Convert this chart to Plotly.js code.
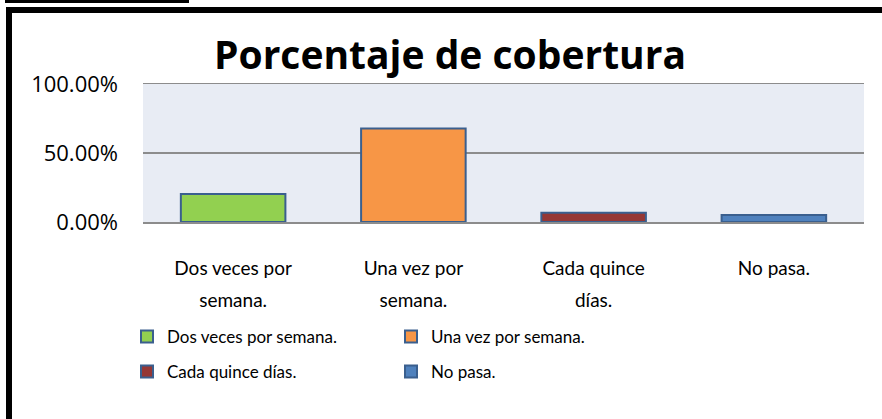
<!DOCTYPE html>
<html>
<head>
<meta charset="utf-8">
<script src="https://cdn.plot.ly/plotly-3.0.1.min.js"></script>
<style>
  html, body { margin: 0; padding: 0; background: #ffffff; }
  #wrap { position: relative; width: 882px; height: 419px; overflow: hidden; }
  #chart { position: absolute; left: 0; top: 0; width: 882px; height: 419px; }
  .blk { position: absolute; background: #000; }
</style>
</head>
<body>
<div id="wrap">
  <div id="chart"></div>
  <div class="blk" style="left:5px; top:0px; width:184px; height:3px;"></div>
  <div class="blk" style="left:6px; top:7px; width:876px; height:6px;"></div>
  <div class="blk" style="left:6px; top:7px; width:6px; height:412px;"></div>
</div>
<script>
const categories = ["Dos veces por semana.", "Una vez por semana.", "Cada quince días.", "No pasa."];
const tickLines = [["Dos veces por", "semana."], ["Una vez por", "semana."], ["Cada quince", "días."], ["No pasa."]];
const values = [0.2034, 0.678, 0.0678, 0.0508];
const colors = ["#92d050", "#f79646", "#953735", "#4f81bd"];
const legendGroups = ["legend", "legend", "legend2", "legend2"];

const tickLabels = tickLines.map(lines =>
  lines.map(l => "<span style='font-size:19px'>" + l + "</span>").join("<br>"));

const traces = categories.map((c, i) => ({
  type: "bar",
  name: c,
  x: [c],
  y: [values[i]],
  width: 0.58,
  legend: legendGroups[i],
  marker: { color: colors[i], line: { color: "#3a5f8e", width: 2 } },
  hoverinfo: "skip"
}));

const legendFont = { family: "Lato, 'Open Sans', sans-serif", size: 17, color: "#000" };

const layout = {
  width: 882,
  height: 419,
  margin: { l: 143, r: 18, t: 84, b: 197 },
  paper_bgcolor: "#ffffff",
  plot_bgcolor: "#e8ecf4",
  barmode: "overlay",
  showlegend: true,
  title: {
    text: "<b>Porcentaje de cobertura</b>",
    font: { family: "'Open Sans', sans-serif", size: 39, color: "#000" },
    x: 450 / 882, xanchor: "center", xref: "container",
    y: 1 - 55 / 419, yanchor: "middle", yref: "container"
  },
  xaxis: {
    type: "category",
    categoryorder: "array",
    categoryarray: categories,
    tickmode: "array",
    tickvals: categories,
    ticktext: tickLabels,
    tickfont: { family: "Lato, 'Open Sans', sans-serif", size: 24, color: "#000" },
    ticklabelstandoff: 23,
    showgrid: false,
    zeroline: false,
    showline: true,
    mirror: true,
    linecolor: "#8c8c8c",
    linewidth: 1.5,
    ticks: ""
  },
  yaxis: {
    range: [0, 1],
    tickvals: [0, 0.5, 1],
    tickformat: ".2%",
    tickfont: { family: "'Open Sans', sans-serif", size: 22, color: "#000" },
    ticklabelstandoff: 24,
    showgrid: true,
    gridcolor: "#8c8c8c",
    gridwidth: 1.5,
    zeroline: false,
    showline: false,
    ticks: ""
  },
  legend: {
    orientation: "h",
    xref: "container", yref: "container",
    x: 127 / 882, xanchor: "left",
    y: 1 - 337 / 419, yanchor: "middle",
    entrywidth: 219, entrywidthmode: "pixels",
    font: legendFont,
    bgcolor: "rgba(0,0,0,0)",
    traceorder: "normal"
  },
  legend2: {
    orientation: "h",
    xref: "container", yref: "container",
    x: 127 / 882, xanchor: "left",
    y: 1 - 372 / 419, yanchor: "middle",
    entrywidth: 219, entrywidthmode: "pixels",
    font: legendFont,
    bgcolor: "rgba(0,0,0,0)",
    traceorder: "normal"
  }
};

Plotly.newPlot("chart", traces, layout, { displayModeBar: false, staticPlot: true });
</script>
</body>
</html>
